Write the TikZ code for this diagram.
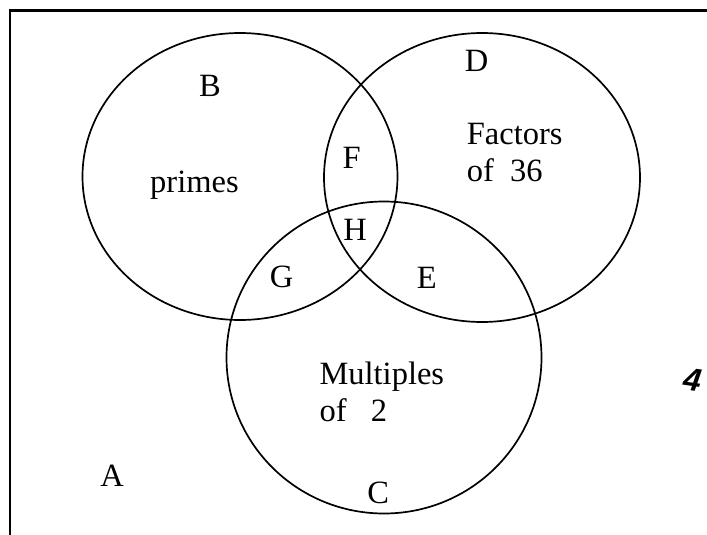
\documentclass[tikz,border=0pt]{standalone}
\usepackage{fontspec}
\setmainfont{Liberation Serif}
\newfontfamily\handfont{Liberation Sans}
\begin{document}
\begin{tikzpicture}[x=1pt,y=-1pt,
  setline/.style={line width=1.7pt},
  framel/.style={line width=2.6pt},
  lbl/.style={inner sep=0pt,anchor=base,font=\fontsize{32.5}{38}\selectfont},
  lblw/.style={inner sep=0pt,anchor=base west,font=\fontsize{32.5}{38}\selectfont}]
\useasboundingbox (0,0) rectangle (707,535);
% frame (top and left edges)
\coordinate (ftr) at (707,10.5);
\coordinate (ftl) at (10,10.5);
\coordinate (fbl) at (10,535);
\draw[framel] (ftr) -- (ftl) -- (fbl);
% sets
\draw[setline] (240,176.5) ellipse [x radius=157.5pt, y radius=143.5pt];
\draw[setline] (482,177.5) ellipse [x radius=158pt, y radius=144.5pt];
\draw[setline] (384,357.5) ellipse [x radius=157.5pt, y radius=156pt];
% labels
\node[lbl] (lB) at (210,96) {B};
\node[lblw] (lprimes) at (150,192.7) {primes};
\node[lbl] (lF) at (351.7,168.3) {F};
\node[lbl] (lH) at (355,240) {H};
\node[lbl] (lG) at (281.7,287.7) {G};
\node[lbl] (lD) at (476.7,71.7) {D};
\node[lblw] (lfac) at (466.7,144) {Factors};
\node[lblw] (lfac2) at (466.7,181.7) {of\ \ 36};
\node[lbl] (lE) at (426.7,288.3) {E};
\node[lblw] (lmul) at (319.3,384) {Multiples};
\node[lblw] (lmul2) at (319.3,421.7) {of\ \ \ 2};
\node[lbl] (lC) at (378.3,503.3) {C};
\node[lbl] (lA) at (112,486) {A};
\node[inner sep=0pt,anchor=base,rotate=-8,font=\handfont\bfseries\itshape\fontsize{32}{36}\selectfont] (l4) at (691,391) {4};
\end{tikzpicture}
\end{document}
